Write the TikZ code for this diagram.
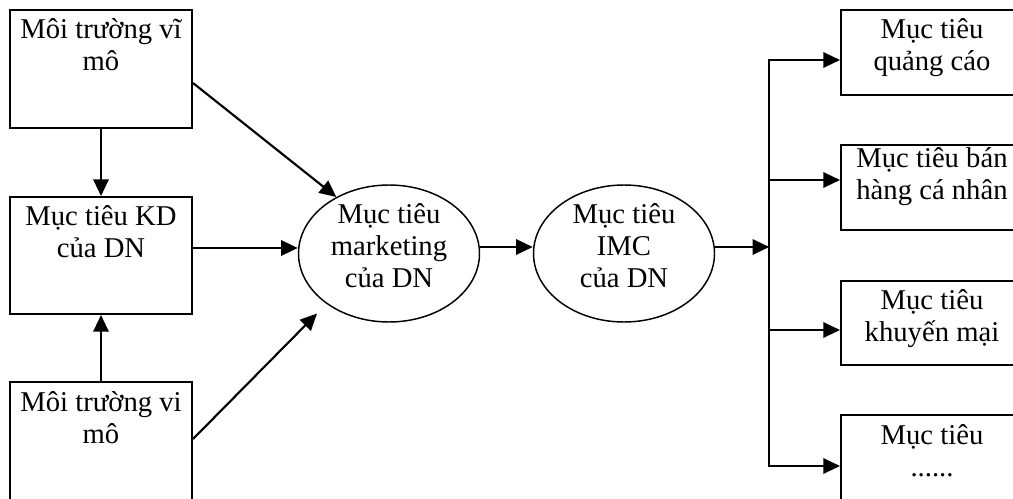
\documentclass[tikz,border=0pt]{standalone}
\usepackage{fontspec}
\setmainfont{Liberation Serif}
\usetikzlibrary{arrows.meta,shapes.geometric,calc}

% top-aligned text block: #1 height, #2 width, #3 first-baseline drop, #4 lines
\newcommand\topblock[4]{\parbox[c][#1][t]{#2}{\centering\lineskiplimit=-30pt\rule{0pt}{#3}#4}}

\tikzset{
  box/.style={draw, line width=1.5pt, inner sep=0pt, anchor=north west},
  oval/.style={draw, ellipse, line width=1.1pt, inner sep=0pt,
               minimum width=135.75pt, minimum height=102.75pt},
  ovaltext/.style={inner sep=0pt},
  arr/.style={line width=1.6pt, -{Triangle[length=12.5pt,width=11.5pt]}},
}

\begin{document}
\begin{tikzpicture}[x=0.75pt, y=-0.75pt, font=\fontsize{21.5pt}{24pt}\selectfont]
\useasboundingbox (0,0) rectangle (1013,499);
\clip (0,0) rectangle (1013,499);

% left column
\node[box] (vimo) at (9,9)   {\topblock{88.5pt}{136.5pt}{21.75pt}{Môi trường vĩ\\mô}};
\node[box] (kd)   at (9,196) {\topblock{87.75pt}{136.5pt}{21pt}{Mục tiêu KD\\của DN}};
\node[box] (vmo)  at (9,381) {\topblock{97.5pt}{136.5pt}{21.75pt}{Môi trường vi\\mô}};

% ellipses
\node[oval] (mkt) at (389,253.5) {};
\node[ovaltext] (mkttext) at (mkt.center) {\topblock{102.75pt}{130pt}{28.5pt}{Mục tiêu\\marketing\\của DN}};
\node[oval] (imc) at (624,253.5) {};
\node[ovaltext] (imctext) at (imc.center) {\topblock{102.75pt}{130pt}{28.5pt}{Mục tiêu\\IMC\\của DN}};

% right column
\node[box] (qc) at (840,9)   {\topblock{63.75pt}{136.5pt}{21.5pt}{Mục tiêu\\quảng cáo}};
\node[box] (bh) at (840,144) {\topblock{63.75pt}{136.5pt}{17pt}{Mục tiêu bán\\hàng cá nhân}};
\node[box] (km) at (840,280) {\topblock{63pt}{136.5pt}{21pt}{Mục tiêu\\khuyến mại}};
\node[box] (kt) at (840,414) {\topblock{75pt}{136.5pt}{21.75pt}{Mục tiêu\\......}};

% connectors on the left
\draw[arr] (vimo.south) -- (kd.north);
\draw[arr] (vmo.north) -- (kd.south);

\coordinate (vimoout) at ($(vimo.east)+(0,14)$);
\draw[arr] (vimoout) -- (mkt.133);

\coordinate (kdout) at ($(kd.east)+(0,-7.5)$);
\draw[arr] (kdout) -- (kdout -| mkt.west);

\coordinate (vmoout) at ($(vmo.east)+(0,-8)$);
\coordinate (mktin) at ($(mkt.center)+(-72,60)$);
\draw[arr] (vmoout) -- (mktin);

% middle chain
\coordinate (mktout) at ($(mkt.east)+(0,-6.5)$);
\draw[arr] (mktout) -- (mktout -| imc.west);

\coordinate (imcout) at ($(imc.east)+(0,-6.5)$);
\coordinate (fork) at ($(imcout)+(54,0)$);
\draw[arr] (imcout) -- (fork);

% fan-out to the objectives
\coordinate (qcin) at ($(qc.north west)+(0,51)$);
\coordinate (bhin) at ($(bh.north west)+(0,36)$);
\coordinate (kmin) at ($(km.north west)+(0,50)$);
\coordinate (ktin) at ($(kt.north west)+(0,52)$);
\draw[arr] (fork) -- (fork |- qcin) -- (qcin);
\draw[arr] (fork |- bhin) -- (bhin);
\draw[arr] (fork |- kmin) -- (kmin);
\draw[arr] (fork) -- (fork |- ktin) -- (ktin);
\end{tikzpicture}
\end{document}
